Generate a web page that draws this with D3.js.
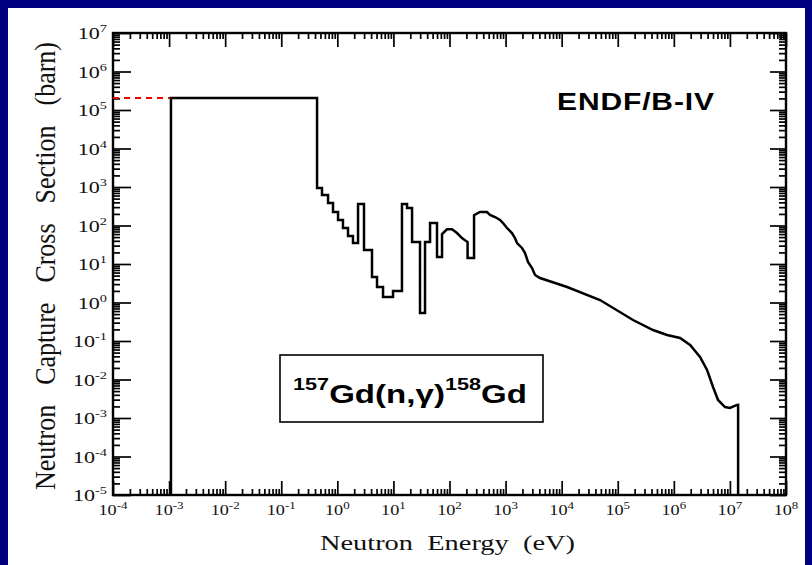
<!DOCTYPE html>
<html><head><meta charset="utf-8">
<script src="https://cdn.jsdelivr.net/npm/d3@7"></script>
<style>body{margin:0;background:#000080;} svg{display:block}</style>
</head><body><svg id="c" width="812" height="565"></svg>
<script>
// ---- data ----
const energy = [1.08e-3,1.08e-3,0.435,0.435,0.533,0.533,0.683,0.683,0.838,0.838,1.03,1.03,1.26,1.26,1.55,1.55,1.90,1.90,2.34,2.34,2.99,2.99,4.15,4.15,5.10,5.10,6.53,6.53,9.84,9.84,14.2,14.2,17.5,17.5,21.5,21.5,29.8,29.8,36.6,36.6,45.0,45.0,59.9,59.9,73.6,73.6,90.3,111,136,167,210,210,274,274,350,467,528,648,796,900,1060,1300,1470,1600,1960,2220,2510,2960,3350,4110,1.25e4,4.83e4,1.87e5,4.26e5,7.57e5,1.29e6,1.95e6,2.93e6,3.91e6,5.0e6,6.14e6,8.18e6,1.0e7,1.34e7,1.40e7,1.40e7];
const crossSection = [1e-5,2.05e5,2.05e5,942,942,619,619,384,384,224,224,139,139,86,86,53,53,35,35,361,361,23.1,23.1,4.59,4.59,2.53,2.53,1.39,1.39,2.0,2.0,361,361,285,285,37.2,37.2,0.533,0.533,37.2,37.2,116,116,15.2,15.2,60,80,80,63.8,47.3,37.2,14.3,14.3,185,224,224,187,166,139,116,86,63.8,47.3,35,26.1,19.3,11.3,7.87,5.18,4.33,2.53,1.16,0.351,0.193,0.143,0.120,0.0787,0.0384,0.0177,6.38e-3,2.94e-3,1.93e-3,1.82e-3,2.18e-3,2.2e-3,1e-5];
const plateauValue = 2.05e5;
const xExponents = [-4,-3,-2,-1,0,1,2,3,4,5,6,7,8];
const yExponents = [-5,-4,-3,-2,-1,0,1,2,3,4,5,6,7];
const xTitle = "Neutron Energy (eV)";
const yTitle = "Neutron Capture Cross Section (barn)";
const libraryLabel = "ENDF/B-IV";
const reactionParts = [["157","sup"],["Gd(n,","base"],["γ","base"],[")","base"],["158","sup"],["Gd","base"]];

// ---- drawing ----
const svg = d3.select("#c");
svg.append("rect").attr("x",8).attr("y",8).attr("width",797).attr("height",557).attr("fill","#fff");

const L=113,R=786,T=33,B=495;
const x = d3.scaleLog().domain([1e-4,1e8]).range([L,R]);
const y = d3.scaleLog().domain([1e-5,1e7]).range([B,T]);

const xMajor = xExponents.map(e=>Math.pow(10,e));
const yMajor = yExponents.map(e=>Math.pow(10,e));
const minorOf = (maj)=>{const a=[];maj.slice(0,-1).forEach(m=>{for(let k=2;k<10;k++)a.push(m*k);});return a;};
const xMinor = minorOf(xMajor), yMinor = minorOf(yMajor);

function drawAxis(axisFn, scale, vals, size, tr){
  const g = svg.append("g").attr("transform",tr)
    .call(axisFn(scale).tickValues(vals).tickSize(size).tickFormat(""));
  g.select(".domain").remove();
  g.selectAll(".tick line").attr("stroke","#000").attr("stroke-width",1.7);
  return g;
}
drawAxis(d3.axisBottom, x, xMajor, -14, `translate(0,${B})`);
drawAxis(d3.axisBottom, x, xMinor, -6, `translate(0,${B})`);
drawAxis(d3.axisTop, x, xMajor, -14, `translate(0,${T})`);
drawAxis(d3.axisTop, x, xMinor, -6, `translate(0,${T})`);
drawAxis(d3.axisLeft, y, yMajor, -18, `translate(${L},0)`);
drawAxis(d3.axisLeft, y, yMinor, -7, `translate(${L},0)`);
drawAxis(d3.axisRight, y, yMajor, -16, `translate(${R},0)`);
drawAxis(d3.axisRight, y, yMinor, -7, `translate(${R},0)`);

svg.append("rect").attr("x",L).attr("y",T).attr("width",R-L).attr("height",B-T)
  .attr("fill","none").attr("stroke","#000").attr("stroke-width",2.4);

const serif = "'Liberation Serif','DejaVu Serif',serif";
const sans = "'Liberation Sans',Arial,sans-serif";
// text placed in a horizontally stretched group (the source lettering is wide)
function wideText(px, py, sx){
  return svg.append("g").attr("transform",`translate(${px},${py}) scale(${sx},1)`).append("text");
}
xExponents.forEach((e,i)=>{
  const t = wideText(x(xMajor[i]), 515, 1.3).attr("text-anchor","middle")
    .attr("font-family",serif).attr("font-size",14).attr("fill","#111");
  t.append("tspan").text("10");
  t.append("tspan").attr("dy",-6).attr("font-size",10).text(String(e));
});
yExponents.forEach((e,i)=>{
  const t = wideText(107, y(yMajor[i])+6, 1.3).attr("text-anchor","end")
    .attr("font-family",serif).attr("font-size",17).attr("fill","#111");
  t.append("tspan").text("10");
  t.append("tspan").attr("dy",-7).attr("font-size",11).text(String(e));
});

function fitWords(sel, target){
  const n = (sel.text().match(/ /g)||[]).length;
  const len = sel.node().getComputedTextLength();
  sel.style("word-spacing", ((target-len)/n) + "px");
}
const xt = wideText(320, 550, 1.29).attr("font-family",serif).attr("font-size",22).attr("fill","#111").text(xTitle);
fitWords(xt, 255/1.29);
const yt = svg.append("g").attr("transform","translate(55,490) scale(1.15,1) rotate(-90)")
  .append("text").attr("font-family",serif).attr("font-size",26).attr("fill","#111").text(yTitle);
fitWords(yt, 448);

svg.append("line").attr("x1",L).attr("x2",x(energy[1])).attr("y1",y(plateauValue)).attr("y2",y(plateauValue))
  .attr("stroke","#e00").attr("stroke-width",1.8).attr("stroke-dasharray","6,5");

const pts = energy.map((e,i)=>[e,crossSection[i]]);
svg.append("path").attr("d", d3.line().x(d=>x(d[0])).y(d=>y(d[1]))(pts))
  .attr("fill","none").attr("stroke","#000").attr("stroke-width",2.5).attr("stroke-linejoin","miter");

wideText(557,110,1.25).attr("font-family",sans).attr("font-weight","bold").attr("font-size",24)
  .attr("textLength",157/1.25).attr("lengthAdjust","spacing").attr("fill","#000").text(libraryLabel);

svg.append("rect").attr("x",280).attr("y",355).attr("width",263).attr("height",67)
  .attr("fill","#fff").attr("stroke","#000").attr("stroke-width",1.6);
const rt = wideText(293,403,1.27).attr("font-family",sans).attr("font-weight","bold")
  .attr("textLength",234/1.27).attr("lengthAdjust","spacing").attr("fill","#000");
let prev="base";
reactionParts.forEach(([s,k])=>{
  const ts = rt.append("tspan").text(s).attr("font-size", k==="sup"?17:26);
  if(k!==prev){ ts.attr("dy", k==="sup"? -13 : 13); }
  prev=k;
});
</script></body></html>
